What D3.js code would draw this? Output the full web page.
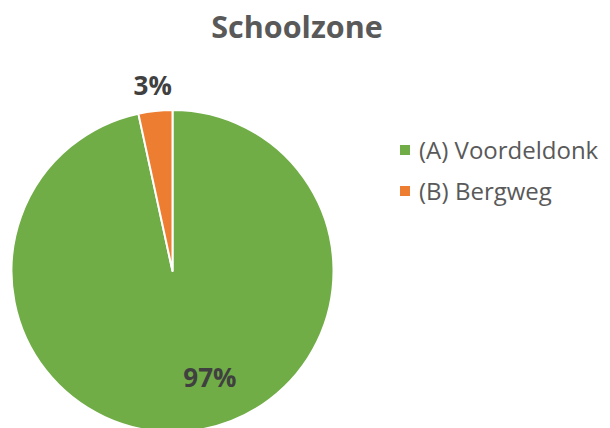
<!DOCTYPE html>
<html>
<head>
<meta charset="utf-8">
<script src="https://cdn.jsdelivr.net/npm/d3@7"></script>
<style>
  body { margin:0; background:#fff; }
  svg { display:block; font-family:"Open Sans", "DejaVu Sans", sans-serif; }
</style>
</head>
<body>
<div class="main__area"></div>
<script>
const chartTitle="Schoolzone";
const categories=["(A) Voordeldonk", "(B) Bergweg"];
const shares=[96.6, 3.4];
const shareLabels=["97%", "3%"];
const sliceColors=["#70ad47", "#ed7d31"];

const width=610;
const height=428;
const cx=172.5, cy=271, radius=161;

const svgTag=d3.select(".main__area").append("svg")
    .attr("width", width)
    .attr("height", height);

svgTag.append("text")
    .attr("x", 297).attr("y", 38)
    .attr("text-anchor", "middle")
    .attr("font-size", 30.5).attr("font-weight", 700)
    .attr("fill", "#595959")
    .text(chartTitle);

const pieData=d3.pie().sort(null).value(d => d.value)(
    categories.map((name, i) => ({ name, value: shares[i], label: shareLabels[i], color: sliceColors[i] }))
);

const arc=d3.arc().innerRadius(0).outerRadius(radius);
const pieG=svgTag.append("g").attr("transform", `translate(${cx}, ${cy})`);

pieG.selectAll("path").data(pieData).join("path")
    .attr("d", arc)
    .attr("fill", d => d.data.color)
    .attr("stroke", "#fff")
    .attr("stroke-width", 2)
    .attr("stroke-linejoin", "round");

// 작은 조각은 바깥에, 큰 조각은 안쪽에 (엑셀 best fit 흉내)
function labelPos(d) {
    const big=(d.endAngle - d.startAngle) > Math.PI;
    const mid=(d.startAngle + d.endAngle)/2 - (big ? 0.23 : 0);
    const r=big ? 113 : 186;
    return [r*Math.sin(mid), -r*Math.cos(mid)];
}

pieG.selectAll("text.pct").data(pieData).join("text")
    .attr("class", "pct")
    .attr("x", d => labelPos(d)[0])
    .attr("y", d => labelPos(d)[1])
    .attr("dy", "0.36em")
    .attr("text-anchor", "middle")
    .attr("font-size", 26).attr("font-weight", 700)
    .attr("fill", "#404040")
    .text(d => d.data.label);

const legendY=d3.scalePoint().domain(categories).range([150, 191]);
const legendG=svgTag.append("g");
legendG.selectAll("rect").data(categories).join("rect")
    .attr("x", 400).attr("y", d => legendY(d) - 5)
    .attr("width", 10).attr("height", 10)
    .attr("fill", (d, i) => sliceColors[i]);
legendG.selectAll("text").data(categories).join("text")
    .attr("x", 419).attr("y", d => legendY(d))
    .attr("dy", "0.36em")
    .attr("font-size", 24)
    .attr("fill", "#595959")
    .text(d => d);
</script>
</body>
</html>
